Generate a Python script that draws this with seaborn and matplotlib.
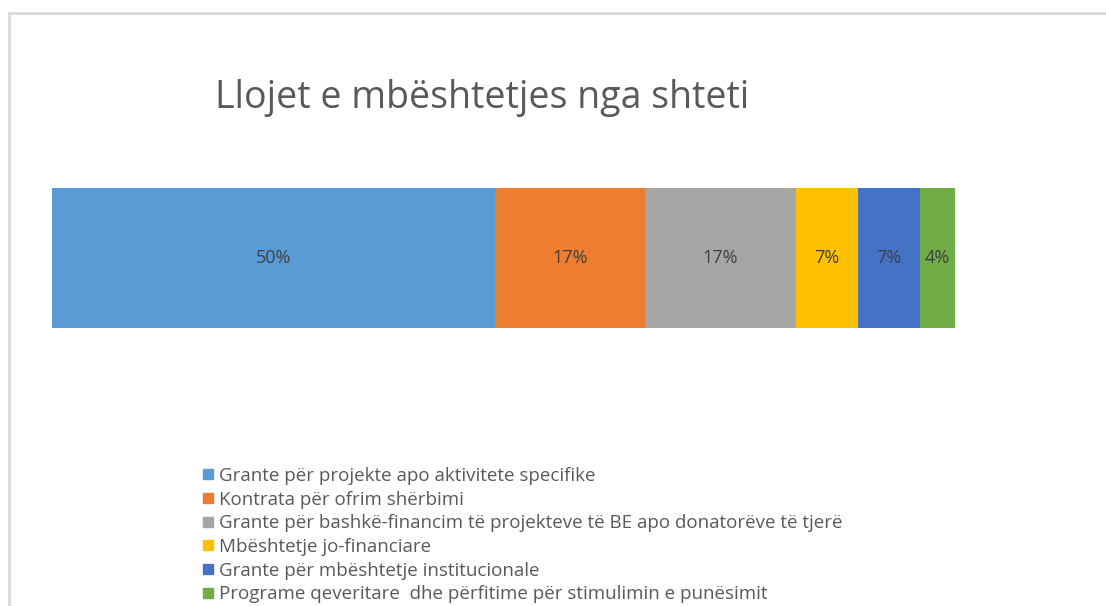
import pandas as pd
import seaborn as sns
import matplotlib.pyplot as plt
from matplotlib.lines import Line2D
from matplotlib.patches import Rectangle

# data
categories = [
    "Grante për projekte apo aktivitete specifike",
    "Kontrata për ofrim shërbimi",
    "Grante për bashkë-financim të projekteve të BE apo donatorëve të tjerë",
    "Mbështetje jo-financiare",
    "Grante për mbështetje institucionale",
    "Programe qeveritare  dhe përfitime për stimulimin e punësimit",
]
shares = [50, 17, 17, 7, 7, 4]
labels = ["50%", "17%", "17%", "7%", "7%", "4%"]
colors = ["#5b9bd5", "#ed7d31", "#a5a5a5", "#ffc000", "#4472c4", "#70ad47"]

sns.set_theme(style="white")
plt.rcParams['font.family'] = ['Open Sans', 'DejaVu Sans']

df = pd.DataFrame({"cat": categories, "share": shares, "label": labels, "color": colors})
df["end"] = df["share"].cumsum()
df["start"] = df["end"] - df["share"]
df["row"] = "all"

fig = plt.figure(figsize=(11.06, 6.06), dpi=100)
ax = fig.add_axes([52 / 1106, 1 - 345.5 / 606, (955 - 52) / 1106, 175 / 606])

# stacked bar: draw cumulative totals from the largest down so each segment shows
for i in reversed(range(len(df))):
    sns.barplot(x=[df["end"][i]], y=[df["row"][i]], orient="h", color=df["color"][i],
                width=0.8, saturation=1, ax=ax, edgecolor="none", linewidth=0)

for i in range(len(df)):
    mid = (df["start"][i] + df["end"][i]) / 2
    ax.text(mid, 0, df["label"][i], ha="center", va="center", fontsize=13, color="#404040")

ax.set_xlim(0, df["end"].iloc[-1])
ax.set_ylim(0.5, -0.5)
ax.set_axis_off()

fig.text(215 / 1106, 1 - 108 / 606, "Llojet e mbështetjes nga shteti", fontsize=27,
         color="#595959", ha="left", va="baseline")

handles = [Line2D([0], [0], marker="s", linestyle="none", markersize=7.5,
                  markerfacecolor=c, markeredgecolor=c) for c in colors]
fig.legend(handles, categories, loc="upper left", bbox_to_anchor=(203 / 1106, 1 - 467 / 606),
           frameon=False, fontsize=13.5, labelcolor="#595959", handlelength=0.55,
           handletextpad=0.3, labelspacing=0.3, borderaxespad=0, borderpad=0)

fig.patches.append(Rectangle((9 / 1106, -0.1), 1.2, 1 - 13 / 606 + 0.1, transform=fig.transFigure,
                             fill=False, edgecolor="#d9d9d9", linewidth=2))

fig.savefig("out.png", dpi=100)
